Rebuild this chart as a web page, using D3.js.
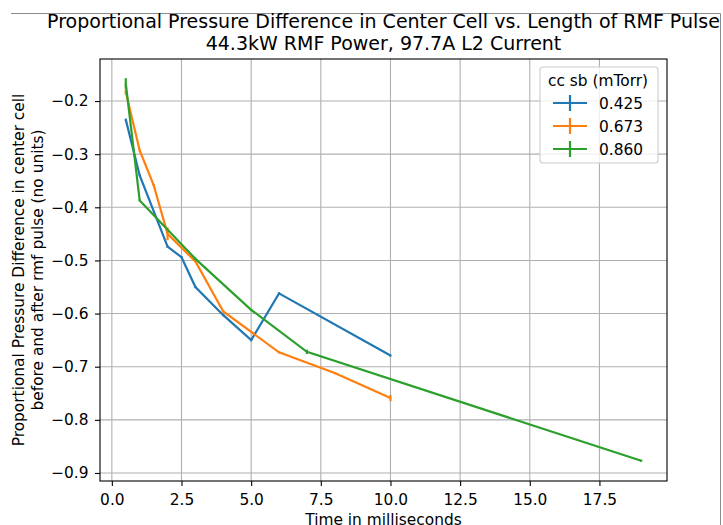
<!DOCTYPE html>
<html>
<head>
<meta charset="utf-8">
<script src="https://cdn.jsdelivr.net/npm/d3@7"></script>
<style>
  body { margin: 0; background: #fff; }
  text { font-family: "DejaVu Sans", sans-serif; fill: #000; }
</style>
</head>
<body>
<svg id="chart" width="723" height="525"></svg>
<script>
// pulse lengths (ms) and proportional pressure difference per cc sb pressure
const seriesNames = ['0.425', '0.673', '0.860'];
const colors = ['#1f77b4', '#ff7f0e', '#2ca02c'];

const blueX = [0.5, 1, 2, 2.5, 3, 4, 5, 6, 10];
const blueY = [-0.235, -0.340, -0.474, -0.494, -0.550, -0.603, -0.650, -0.562, -0.679];
const blueErr = [0.002, 0.002, 0.002, 0.002, 0.002, 0.002, 0.002, 0.002, 0.002];

const orangeX = [0.5, 1, 1.5, 2, 3, 4, 6, 8, 10];
const orangeY = [-0.183, -0.293, -0.358, -0.450, -0.502, -0.596, -0.673, -0.712, -0.759];
const orangeErr = [0.005, 0.002, 0.002, 0.012, 0.002, 0.002, 0.002, 0.002, 0.006];

const greenX = [0.5, 1, 3, 5, 7, 19];
const greenY = [-0.167, -0.387, -0.497, -0.593, -0.672, -0.877];
const greenErr = [0.010, 0.002, 0.002, 0.002, 0.004, 0.002];

const xTicks = [0, 2.5, 5, 7.5, 10, 12.5, 15, 17.5];
const yTicks = [-0.9, -0.8, -0.7, -0.6, -0.5, -0.4, -0.3, -0.2];

const titleLines = ['Proportional Pressure Difference in Center Cell vs. Length of RMF Pulse',
                    '44.3kW RMF Power, 97.7A L2 Current'];
const yLabelLines = ['Proportional Pressure Difference in center cell',
                     'before and after rmf pulse (no units)'];
const xLabel = 'Time in milliseconds';
const legendTitle = 'cc sb (mTorr)';

const series = [
    { name: seriesNames[0], color: colors[0], pts: blueX.map((x, i) => ({ x, y: blueY[i], e: blueErr[i] })) },
    { name: seriesNames[1], color: colors[1], pts: orangeX.map((x, i) => ({ x, y: orangeY[i], e: orangeErr[i] })) },
    { name: seriesNames[2], color: colors[2], pts: greenX.map((x, i) => ({ x, y: greenY[i], e: greenErr[i] })) },
];

const svg = d3.select('#chart');
const pLeft = 100, pRight = 667, pTop = 59, pBottom = 481;
const fs = '15.4px';

// matplotlib style 5% margins around the data (incl. error bars)
const allPts = series.flatMap(s => s.pts);
const xMin = d3.min(allPts, d => d.x), xMax = d3.max(allPts, d => d.x);
const yMin = d3.min(allPts, d => d.y - d.e), yMax = d3.max(allPts, d => d.y + d.e);
const xPad = (xMax - xMin) * 0.05, yPad = (yMax - yMin) * 0.05;

const x = d3.scaleLinear().domain([xMin - xPad, xMax + xPad]).range([pLeft, pRight]);
const y = d3.scaleLinear().domain([yMin - yPad, yMax + yPad]).range([pBottom, pTop]);

// outer frame lines (top and right)
svg.append('path')
    .attr('d', 'M11,13.5H720.5V525')
    .attr('fill', 'none')
    .attr('stroke', '#8a8a8a')
    .attr('stroke-width', 1);

// grid
svg.append('g').selectAll('line')
    .data(xTicks).enter().append('line')
    .attr('x1', d => x(d)).attr('x2', d => x(d))
    .attr('y1', pTop).attr('y2', pBottom)
    .attr('stroke', '#b0b0b0').attr('stroke-width', 1.1);
svg.append('g').selectAll('line')
    .data(yTicks).enter().append('line')
    .attr('x1', pLeft).attr('x2', pRight)
    .attr('y1', d => y(d)).attr('y2', d => y(d))
    .attr('stroke', '#b0b0b0').attr('stroke-width', 1.1);

// series lines + error bars
const line = d3.line().x(d => x(d.x)).y(d => y(d.y));
const plot = svg.append('g');
series.forEach(s => {
    plot.append('path')
        .datum(s.pts)
        .attr('d', line)
        .attr('fill', 'none')
        .attr('stroke', s.color)
        .attr('stroke-width', 2.2)
        .attr('stroke-linejoin', 'miter');
    plot.selectAll(null)
        .data(s.pts).enter().append('line')
        .attr('x1', d => x(d.x)).attr('x2', d => x(d.x))
        .attr('y1', d => y(d.y - d.e)).attr('y2', d => y(d.y + d.e))
        .attr('stroke', s.color)
        .attr('stroke-width', 2.2);
});

// axes
const xAxis = d3.axisBottom(x).tickValues(xTicks).tickFormat(d3.format('.1f')).tickSize(5).tickPadding(8);
const yAxis = d3.axisLeft(y).tickValues(yTicks).tickFormat(d => d3.format('.1f')(d).replace('-', '\u2212')).tickSize(5).tickPadding(6.5);

const gx = svg.append('g').attr('transform', `translate(0,${pBottom})`).call(xAxis);
const gy = svg.append('g').attr('transform', `translate(${pLeft},0)`).call(yAxis);
[gx, gy].forEach(g => {
    g.select('.domain').remove();
    g.selectAll('line').attr('stroke', '#000').attr('stroke-width', 1.1);
    g.selectAll('text').style('font-size', fs).style('font-family', 'DejaVu Sans').attr('fill', '#000');
});

// spines
svg.append('rect')
    .attr('x', pLeft).attr('y', pTop)
    .attr('width', pRight - pLeft).attr('height', pBottom - pTop)
    .attr('fill', 'none')
    .attr('stroke', '#000')
    .attr('stroke-width', 1.1);

// title
svg.append('g').selectAll('text')
    .data(titleLines).enter().append('text')
    .attr('x', (pLeft + pRight) / 2)
    .attr('y', (d, i) => 28 + i * 22)
    .attr('text-anchor', 'middle')
    .style('font-size', '19px')
    .text(d => d);

// axis labels
svg.append('text')
    .attr('x', (pLeft + pRight) / 2)
    .attr('y', 524.5)
    .attr('text-anchor', 'middle')
    .style('font-size', fs)
    .text(xLabel);

svg.append('g').selectAll('text')
    .data(yLabelLines).enter().append('text')
    .attr('transform', (d, i) => `translate(${24 + i * 19},${(pTop + pBottom) / 2}) rotate(-90)`)
    .attr('text-anchor', 'middle')
    .style('font-size', fs)
    .text(d => d);

// legend
const legend = svg.append('g');
legend.append('rect')
    .attr('x', 540).attr('y', 67)
    .attr('width', 118).attr('height', 96)
    .attr('rx', 3)
    .attr('fill', '#fff').attr('fill-opacity', 0.8)
    .attr('stroke', '#cccccc').attr('stroke-width', 1.1);
legend.append('text')
    .attr('x', 598).attr('y', 86)
    .attr('text-anchor', 'middle')
    .style('font-size', fs)
    .text(legendTitle);
series.forEach((s, i) => {
    const cy = 103 + i * 23;
    legend.append('line')
        .attr('x1', 553).attr('x2', 587).attr('y1', cy).attr('y2', cy)
        .attr('stroke', s.color).attr('stroke-width', 2.2);
    legend.append('line')
        .attr('x1', 570).attr('x2', 570).attr('y1', cy - 8).attr('y2', cy + 8)
        .attr('stroke', s.color).attr('stroke-width', 2.2);
    legend.append('text')
        .attr('x', 599).attr('y', cy + 5.5)
        .style('font-size', fs)
        .text(s.name);
});
</script>
</body>
</html>
